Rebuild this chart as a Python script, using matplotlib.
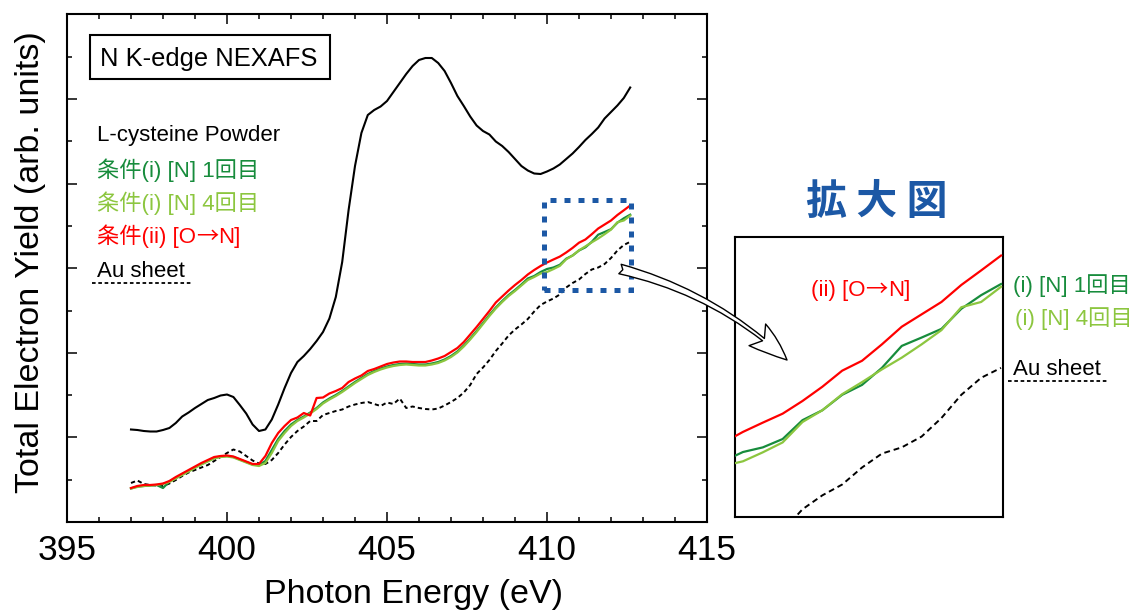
import numpy as np
import matplotlib
matplotlib.use("Agg")
import matplotlib.pyplot as plt
from matplotlib.patches import Rectangle, FancyArrowPatch, ArrowStyle
from matplotlib.lines import Line2D
from matplotlib.ticker import MultipleLocator, FixedLocator

plt.rcParams['font.family'] = ['Liberation Sans', 'Noto Sans CJK JP', 'DejaVu Sans']
CJK_FIRST = ['Noto Sans CJK JP', 'DejaVu Sans']

# Photon energy scan grid (eV)
energy = np.round(np.arange(397.0, 412.61, 0.2), 1)

# Total electron yield, arbitrary units
cysteine = [92.5, 92, 91, 90.5, 90.5, 92, 94, 99, 105.5, 109.5,
            114, 118, 122, 124, 126.5, 127.5, 125, 117, 108.5, 97.5,
            91, 92.5, 102.5, 117.5, 134, 149, 160, 166, 173, 181,
            190, 203.5, 225, 260, 312, 356, 389, 407, 412, 415.5,
            421, 430, 439, 448, 456, 462, 464, 464, 459, 451,
            439, 426, 416, 405.5, 396.5, 391, 387.5, 380.5, 376, 370,
            363, 356, 351.5, 348.5, 348, 350.5, 353.5, 357.5, 363, 368.5,
            375, 382, 388, 394.5, 403.5, 410, 416.5, 424, 434.5]

cond_i_1st = [33.5, 35.5, 36, 36.5, 37, 34, 40.5, 44, 47.5, 51,
              54.5, 58, 61, 64, 65.5, 66, 65, 62.5, 60, 57.5,
              57, 61, 72, 83, 91, 97.5, 102, 105.5, 109.5, 114,
              119.5, 123.5, 127, 131, 135.5, 140, 144, 148, 151, 153.5,
              155.5, 157, 158, 158.5, 158, 157.5, 157.5, 158.5, 160, 162.5,
              166, 170.5, 176.5, 183.5, 191, 199, 207, 214.5, 221, 227,
              232, 237.5, 243.5, 246, 250, 253, 254.5, 257.2, 263.3, 266.5,
              271.5, 274.7, 280.2, 287.3, 290, 292.8, 299.3, 303.7, 307.3]

cond_i_4th = [33.5, 35, 36, 36.5, 37, 38, 40, 43.5, 47, 50.5,
              54, 57.5, 60.5, 63.5, 65, 65.5, 64.5, 62, 59.5, 57,
              56, 59, 69, 81, 89, 96, 101, 104.5, 108.5, 113,
              118.5, 122.5, 126, 130, 134.5, 139, 143, 147, 150, 152.5,
              154.5, 156, 157, 157.5, 157, 156.5, 156.5, 157.5, 159, 161.5,
              165, 169.5, 175.5, 182.5, 190, 198, 206, 213.5, 220, 226,
              231, 236.5, 242, 245, 248.5, 250, 252.9, 256.1, 262.7, 266.5,
              271.7, 275.6, 279.7, 283.5, 287.8, 292.4, 299.8, 301.5, 306.4]

cond_ii = [34, 36, 37, 37, 37.5, 38.5, 41, 45, 48.5, 52,
           55.5, 59, 62, 65, 66, 66.5, 65.5, 63, 60.5, 58,
           58, 66, 79, 89, 96, 102, 104.5, 109, 106.5, 124,
           124.5, 128.5, 131, 134, 140, 143.5, 146.5, 151, 153, 155.5,
           158, 159.5, 160.5, 160.5, 160, 160, 160, 161.5, 163.5, 166,
           170, 174, 180, 187.5, 195, 203, 211, 219.5, 225.5, 231.5,
           237, 242, 247.5, 252, 256, 259.5, 262.5, 265.4, 269.5, 274.1,
           279.3, 282.5, 287.8, 293.5, 297.5, 301.5, 307, 311.7, 316.5]

au_sheet = [39, 41.5, 38, 37, 36.5, 36, 38.5, 42, 46, 49.5,
            52, 54.5, 57, 61, 65, 69, 72.5, 70.5, 66, 61.5,
            58.5, 58, 62, 69, 77.5, 85, 91, 95.5, 101, 101,
            107, 109, 111, 112.5, 115.5, 117.5, 119, 120, 118, 116,
            119.5, 118, 123.5, 114, 115.5, 114, 113, 112.5, 113.5, 116.5,
            120, 124, 129.5, 137, 148, 154.5, 162, 171, 178.5, 186.5,
            192.5, 197.5, 203, 210.5, 217, 220.5, 223.5, 227.5, 234.5, 239,
            242.5, 248, 252.5, 254.5, 258, 264, 271.5, 277, 280.2]

DGREEN = '#178C3C'
LGREEN = '#8CC63F'
RED = '#FF0000'
BLUE = '#1C58A5'

# Labels split so the arrow sign uses the full-width CJK glyph
legend_entries = [
    ([("L-cysteine Powder", None)], 'black', 141),
    ([("条件(i) [N] 1回目", None)], DGREEN, 177),
    ([("条件(i) [N] 4回目", None)], LGREEN, 210),
    ([("条件(ii) [O", None), ("→", CJK_FIRST), ("N]", None)], RED, 243),
    ([("Au sheet", None)], 'black', 277),
]
inset_entries = [
    ([("(ii) [O", None), ("→", CJK_FIRST), ("N]", None)], RED, (811, 296)),
    ([("(i) [N] 1回目", None)], DGREEN, (1013, 292)),
    ([("(i) [N] 4回目", None)], LGREEN, (1015, 325)),
    ([("Au sheet", None)], 'black', (1013, 375)),
]

X_RANGE = (395, 415)
Y_RANGE = (0, 508)
TICK_STEP = 42.3
ZOOM_X = (409.92, 412.62)
ZOOM_Y = (232.0, 322.5)

W, H = 1135, 610
fig = plt.figure(figsize=(W / 100, H / 100), dpi=100)
renderer = fig.canvas.get_renderer()


def fx(px):
    return px / W


def fy(py):
    return 1 - py / H


def chain_text(x_px, y_px, parts, color, size=16):
    """Write consecutive text pieces on one baseline, left to right."""
    x = x_px
    for s, fam in parts:
        kw = {} if fam is None else {'family': fam}
        t = fig.text(fx(x), fy(y_px), s, color=color, fontsize=size,
                     va='baseline', **kw)
        x = t.get_window_extent(renderer).x1
    return x


def draw_series(ax, dash):
    ax.plot(energy, cysteine, color='black', lw=1.5, zorder=3)
    ax.plot(energy, au_sheet, color='black', lw=1.4, ls=(0, dash), zorder=3)
    ax.plot(energy, cond_i_1st, color=DGREEN, lw=1.6, zorder=3)
    ax.plot(energy, cond_i_4th, color=LGREEN, lw=1.6, zorder=3)
    ax.plot(energy, cond_ii, color=RED, lw=1.6, zorder=3)


# ---- main spectrum panel ----
ax = fig.add_axes([fx(67), fy(522), (707 - 67) / W, (522 - 14) / H])
draw_series(ax, (2.2, 1.6))
ax.set_xlim(*X_RANGE)
ax.set_ylim(*Y_RANGE)
ax.xaxis.set_major_locator(MultipleLocator(5))
ax.xaxis.set_minor_locator(MultipleLocator(1))
steps = np.arange(1, 12) * TICK_STEP
ax.yaxis.set_major_locator(FixedLocator(steps[1::2]))
ax.yaxis.set_minor_locator(FixedLocator(steps[0::2]))
ax.tick_params(which='both', direction='in', top=True, right=True, width=1.1,
               labelleft=False)
ax.tick_params(which='major', length=7.5)
ax.tick_params(which='minor', length=3.8)
ax.tick_params(axis='x', labelsize=25.5, pad=9)
for s in ax.spines.values():
    s.set_linewidth(1.5)

ax.set_xlabel("Photon Energy (eV)", fontsize=24.5)
ax.xaxis.set_label_coords((414 - 67) / 640, (522 - 579) / 508)
ax.set_ylabel("Total Electron Yield (arb. units)", fontsize=24.5)
ax.yaxis.set_label_coords((46 - 67) / 640, (522 - 262) / 508)

# zoom region marker
ax.add_patch(Rectangle((ZOOM_X[0], ZOOM_Y[0]), ZOOM_X[1] - ZOOM_X[0],
                       ZOOM_Y[1] - ZOOM_Y[0], fill=False, edgecolor=BLUE,
                       lw=3.6, ls=(0, (1.2, 1.6)), zorder=6))

# ---- magnified panel ----
ax2 = fig.add_axes([fx(735), fy(517), 268 / W, 280 / H])
draw_series(ax2, (3, 2))
ax2.set_xlim(*ZOOM_X)
ax2.set_ylim(*ZOOM_Y)
ax2.set_xticks([])
ax2.set_yticks([])
for s in ax2.spines.values():
    s.set_linewidth(1.5)

# ---- annotations ----
fig.text(fx(100), fy(66), "N K-edge NEXAFS", fontsize=18.4, va='baseline')
fig.add_artist(Rectangle((fx(90), fy(79)), (330 - 90) / W, (79 - 35) / H,
                         transform=fig.transFigure, fill=False, lw=1.5,
                         ec='black'))

for parts, col, yb in legend_entries:
    chain_text(97, yb, parts, col)
fig.add_artist(Line2D([fx(92), fx(193)], [fy(283), fy(283)],
                      transform=fig.transFigure, color='black', lw=1.3,
                      ls=(0, (2, 1.5))))

for parts, col, (px, py) in inset_entries:
    chain_text(px, py, parts, col)
fig.add_artist(Line2D([fx(1008), fx(1109)], [fy(381), fy(381)],
                      transform=fig.transFigure, color='black', lw=1.3,
                      ls=(0, (2, 1.5))))

fig.text(fx(877), fy(202), "拡 大 図", color=BLUE, fontsize=29.5,
         fontweight='bold', ha='center', va='center', family=CJK_FIRST)

arrow = FancyArrowPatch(posA=(fx(620), fy(269)), posB=(fx(787), fy(360)),
                        transform=fig.transFigure,
                        arrowstyle=ArrowStyle.Fancy(head_length=2.0,
                                                    head_width=1.4,
                                                    tail_width=0.5),
                        connectionstyle="arc3,rad=-0.13", mutation_scale=14,
                        shrinkA=0, shrinkB=0, fc='white', ec='black', lw=1.0,
                        zorder=10)
fig.add_artist(arrow)

fig.savefig("out.png", dpi=100)
